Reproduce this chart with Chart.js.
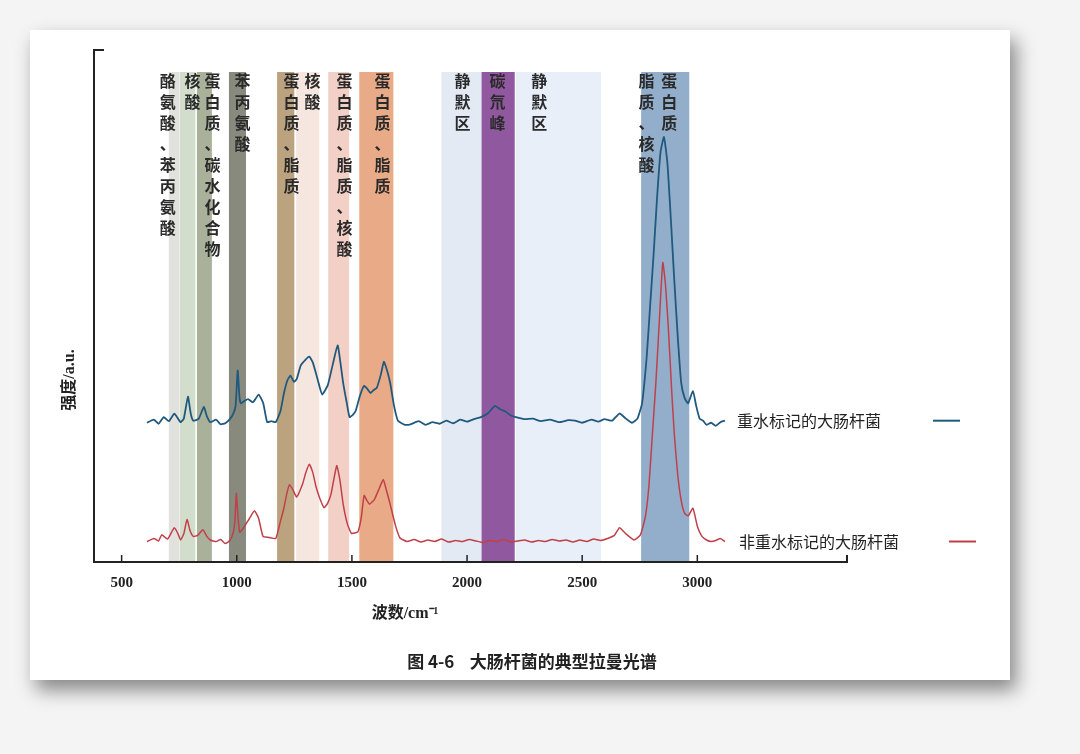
<!DOCTYPE html>
<html>
<head>
<meta charset="utf-8">
<script src="https://cdn.jsdelivr.net/npm/chart.js@4"></script>
<style>
  html, body { margin: 0; padding: 0; background: #f4f4f4; }
  #paper { position: absolute; left: 30px; top: 30px; width: 980px; height: 650px; background: #fff;
           box-shadow: 6px 10px 18px rgba(0,0,0,0.45); }
  #wrap { position: absolute; left: 0; top: 0; width: 1080px; height: 754px; }
</style>
</head>
<body>
<div id="paper"></div>
<div id="wrap"><canvas id="c" width="1080" height="754"></canvas></div>
<script>
// wavenumber (cm-1) and intensity (a.u.)
const blueX = [610, 640, 660, 683, 705, 729, 745, 756, 770, 788, 800, 811, 835, 857, 870, 885, 910, 930, 950, 970, 985, 995, 1004, 1012, 1018, 1035, 1049, 1070, 1095, 1115, 1132, 1150, 1169, 1190, 1205, 1220, 1233, 1248, 1260, 1278, 1298, 1315, 1330, 1343, 1358, 1371, 1395, 1416, 1438, 1450, 1462, 1478, 1490, 1505, 1517, 1535, 1553, 1567, 1581, 1595, 1608, 1625, 1639, 1652, 1666, 1683, 1700, 1730, 1755, 1790, 1820, 1850, 1880, 1910, 1940, 1970, 2000, 2030, 2060, 2090, 2121, 2145, 2167, 2190, 2213, 2250, 2286, 2320, 2360, 2400, 2440, 2469, 2500, 2540, 2570, 2597, 2630, 2662, 2690, 2716, 2740, 2760, 2780, 2795, 2810, 2825, 2840, 2855, 2870, 2885, 2900, 2915, 2930, 2945, 2960, 2981, 2995, 3010, 3025, 3040, 3060, 3080, 3100, 3120];
const blueY = [27.2, 27.8, 27.0, 28.3, 27.5, 29.0, 28.0, 27.3, 28.0, 32.3, 29.0, 27.6, 28.0, 30.3, 28.5, 27.3, 27.8, 26.9, 27.1, 27.9, 29.0, 30.5, 37.4, 32.0, 31.0, 31.5, 31.8, 31.2, 32.7, 31.0, 27.3, 27.5, 27.3, 29.5, 33.0, 35.5, 36.4, 35.2, 35.7, 38.4, 39.5, 40.1, 39.0, 37.0, 34.5, 32.7, 34.5, 38.4, 42.3, 39.0, 35.0, 31.0, 28.3, 28.8, 29.6, 32.5, 34.4, 33.8, 33.0, 33.6, 34.0, 36.5, 39.1, 37.5, 35.0, 30.5, 27.6, 26.8, 26.9, 27.5, 26.8, 27.3, 27.0, 27.6, 27.1, 27.8, 27.4, 27.9, 28.3, 29.0, 30.5, 29.8, 29.4, 28.6, 28.3, 27.9, 28.0, 27.5, 27.8, 27.3, 27.7, 27.6, 27.2, 27.8, 27.4, 27.9, 27.6, 29.0, 28.0, 27.2, 28.0, 31.0, 40.0, 50.0, 60.0, 71.0, 80.0, 83.0, 78.0, 67.0, 55.0, 44.0, 35.0, 32.0, 31.0, 33.4, 30.5, 28.0, 27.6, 26.8, 27.2, 26.6, 27.3, 27.6];
const redX = [610, 640, 660, 674, 700, 729, 745, 756, 770, 784, 798, 811, 830, 853, 870, 885, 910, 930, 950, 970, 985, 992, 998, 1006, 1013, 1031, 1055, 1077, 1095, 1114, 1140, 1169, 1190, 1205, 1218, 1229, 1245, 1260, 1287, 1300, 1315, 1330, 1343, 1360, 1379, 1395, 1410, 1434, 1448, 1462, 1480, 1498, 1526, 1540, 1553, 1565, 1576, 1590, 1599, 1620, 1636, 1650, 1666, 1690, 1709, 1740, 1770, 1800, 1830, 1860, 1890, 1920, 1950, 1980, 2010, 2040, 2070, 2100, 2130, 2160, 2190, 2220, 2250, 2280, 2310, 2340, 2370, 2400, 2430, 2460, 2490, 2520, 2550, 2580, 2610, 2640, 2662, 2690, 2725, 2753, 2775, 2790, 2805, 2820, 2835, 2850, 2862, 2875, 2888, 2900, 2915, 2930, 2945, 2960, 2981, 3000, 3020, 3040, 3060, 3080, 3100, 3120];
const redY = [4.0, 4.6, 4.1, 5.3, 4.5, 6.7, 5.5, 4.3, 5.5, 8.3, 6.0, 5.0, 5.2, 6.3, 5.0, 4.3, 4.0, 4.4, 3.6, 4.2, 5.8, 8.0, 13.4, 8.5, 5.8, 6.8, 8.5, 10.0, 8.5, 5.0, 4.8, 4.6, 8.0, 10.6, 13.5, 15.1, 14.0, 12.7, 15.4, 17.5, 19.1, 17.5, 14.9, 12.5, 10.6, 11.5, 13.4, 18.8, 16.0, 11.3, 7.5, 5.6, 5.9, 8.5, 13.0, 12.0, 11.3, 11.8, 12.3, 14.5, 16.1, 14.0, 11.3, 7.0, 4.7, 4.0, 4.4, 3.9, 4.3, 4.0, 4.5, 3.9, 4.2, 4.0, 4.4, 4.1, 3.8, 4.2, 4.0, 4.4, 3.9, 4.1, 4.3, 3.9, 4.2, 4.0, 4.4, 4.1, 4.3, 3.9, 4.3, 4.0, 4.5, 4.2, 4.6, 5.2, 6.7, 5.5, 4.3, 5.3, 9.0, 15.0, 25.0, 35.0, 47.0, 58.5, 54.0, 45.0, 34.0, 25.0, 17.0, 12.0, 9.5, 9.0, 10.5, 7.0, 5.0, 4.3, 4.0, 4.2, 4.6, 4.0];

const xTicks = [500, 1000, 1500, 2000, 2500, 3000];

// highlighted Raman bands: [from, to] cm-1 and colour
const bandRanges = [[705, 750], [752, 820], [827, 892], [966, 1040], [1175, 1250], [1258, 1358], [1397, 1488], [1532, 1680], [1889, 2063], [2063, 2207], [2211, 2582], [2756, 2965]];
const bandColors = ['#e1e1de', '#d3ddcb', '#a9b19b', '#878a7c', '#bca37f', '#f6e6e0', '#f3d0c5', '#e9ab87', '#e3eaf4', '#90589f', '#e8eff8', '#93aecb'];

// vertical annotation labels: centre wavenumber and text
const labelPos = [700, 808, 895, 1025, 1238, 1329, 1468, 1633, 1980, 2132, 2314, 2779, 2878];
const labelText = ['酪氨酸、苯丙氨酸', '核酸', '蛋白质、碳水化合物', '苯丙氨酸', '蛋白质、脂质', '核酸', '蛋白质、脂质、核酸', '蛋白质、脂质', '静默区', '碳氘峰', '静默区', '脂质、核酸', '蛋白质'];

const seriesNames = ['重水标记的大肠杆菌', '非重水标记的大肠杆菌'];
const seriesColors = ['#1f5a7e', '#c0404a'];

const toPts = (xs, ys) => xs.map((x, i) => ({ x: x, y: ys[i] }));

const decor = {
  id: 'decor',
  beforeDatasetsDraw(chart) {
    const { ctx, chartArea: a, scales: { x } } = chart;
    ctx.save();
    bandRanges.forEach((r, i) => {
      const x0 = x.getPixelForValue(r[0]), x1 = x.getPixelForValue(r[1]);
      ctx.fillStyle = bandColors[i];
      ctx.fillRect(x0, 72, x1 - x0, a.bottom - 72);
    });
    ctx.restore();
  },
  afterDatasetsDraw(chart) {
    const { ctx, chartArea: a, scales: { x, y } } = chart;
    ctx.save();
    // axes
    ctx.strokeStyle = '#222';
    ctx.lineWidth = 2;
    ctx.beginPath();
    ctx.moveTo(a.left + 10, a.top);
    ctx.lineTo(a.left, a.top);
    ctx.lineTo(a.left, a.bottom);
    ctx.lineTo(a.right, a.bottom);
    ctx.lineTo(a.right, a.bottom - 7);
    ctx.stroke();
    ctx.lineWidth = 1.5;
    ctx.fillStyle = '#222';
    ctx.font = 'bold 15px "Liberation Serif"';
    ctx.textAlign = 'center';
    ctx.textBaseline = 'top';
    xTicks.forEach(t => {
      const px = x.getPixelForValue(t);
      ctx.beginPath();
      ctx.moveTo(px, a.bottom);
      ctx.lineTo(px, a.bottom - 7);
      ctx.stroke();
      ctx.fillText(String(t), px, a.bottom + 14);
    });
    // axis titles
    ctx.font = 'bold 16px "Liberation Serif", "Noto Sans CJK SC"';
    ctx.fillText('波数/cm⁻¹', 405, 606);
    ctx.save();
    ctx.translate(70, 380);
    ctx.rotate(-Math.PI / 2);
    ctx.textBaseline = 'middle';
    ctx.fillText('强度/a.u.', 0, 0);
    ctx.restore();
    // vertical labels
    ctx.font = 'bold 16px "Noto Sans CJK SC"';
    ctx.textBaseline = 'top';
    labelText.forEach((s, i) => {
      const px = x.getPixelForValue(labelPos[i]);
      ctx.fillStyle = '#2a2a2a';
      [...s].forEach((ch, k) => ctx.fillText(ch, px, 73 + k * 21));
    });
    // series legends
    const lastY = [blueY[blueY.length - 1], redY[redY.length - 1]];
    ctx.textAlign = 'left';
    ctx.textBaseline = 'middle';
    ctx.font = '16px "Noto Sans CJK SC"';
    [[737, 933], [739, 949]].forEach((p, i) => {
      const py = y.getPixelForValue(lastY[i]);
      ctx.fillStyle = '#222';
      ctx.fillText(seriesNames[i], p[0], py);
      ctx.strokeStyle = seriesColors[i];
      ctx.lineWidth = 2;
      ctx.beginPath();
      ctx.moveTo(p[1], py);
      ctx.lineTo(p[1] + 27, py);
      ctx.stroke();
    });
    // caption
    ctx.textAlign = 'center';
    ctx.fillStyle = '#222';
    ctx.font = 'bold 17px "Noto Sans CJK SC"';
    ctx.fillText('图 4-6    大肠杆菌的典型拉曼光谱', 532, 662);
    ctx.restore();
  }
};

new Chart(document.getElementById('c'), {
  type: 'line',
  data: {
    datasets: [
      { label: seriesNames[0], data: toPts(blueX, blueY), borderColor: seriesColors[0], borderWidth: 1.8, pointRadius: 0, tension: 0.15 },
      { label: seriesNames[1], data: toPts(redX, redY), borderColor: seriesColors[1], borderWidth: 1.5, pointRadius: 0, tension: 0.15 }
    ]
  },
  options: {
    responsive: false,
    animation: false,
    layout: { padding: { left: 94, right: 233, top: 50, bottom: 192 } },
    plugins: { legend: { display: false }, tooltip: { enabled: false } },
    scales: {
      x: { type: 'linear', min: 380, max: 3650, display: false },
      y: { min: 0, max: 100, display: false }
    }
  },
  plugins: [decor]
});
</script>
</body>
</html>
